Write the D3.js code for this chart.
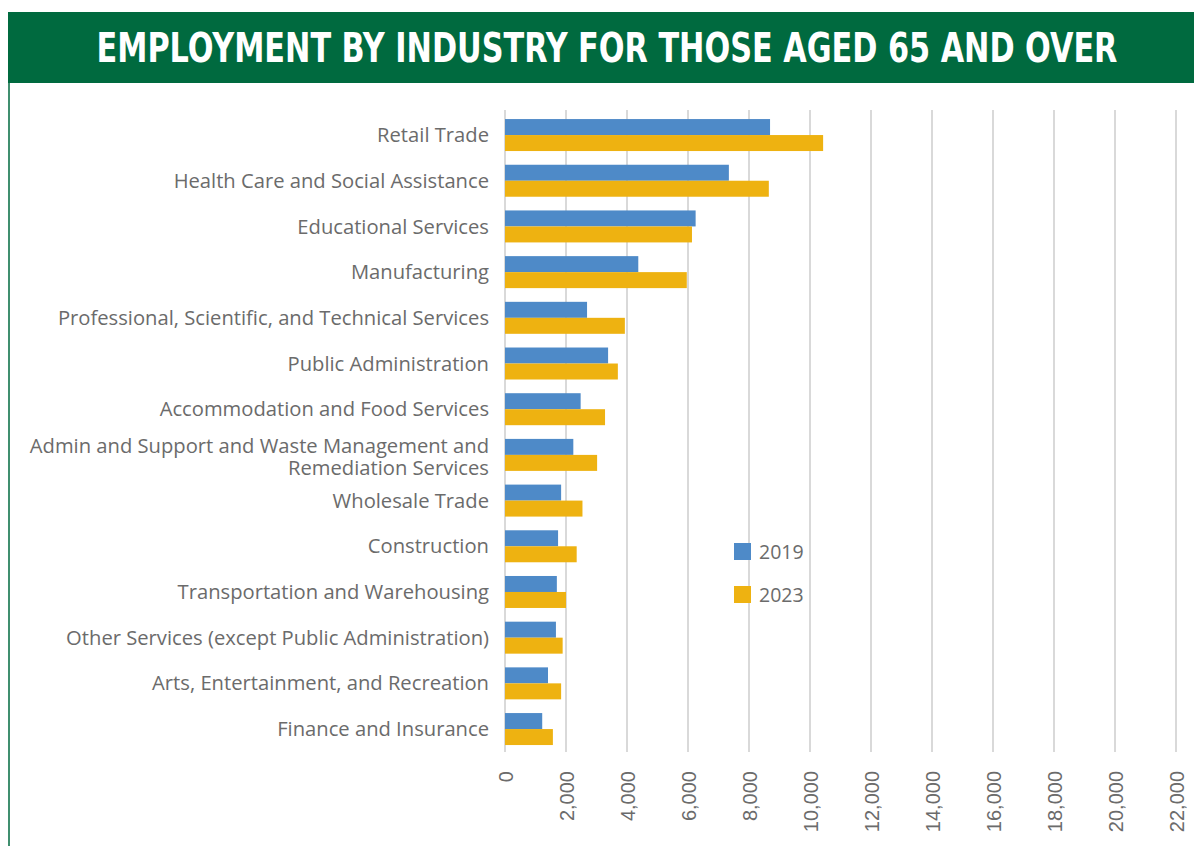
<!DOCTYPE html>
<html>
<head>
<meta charset="utf-8">
<script src="https://cdn.jsdelivr.net/npm/d3@7"></script>
<style>
  html, body { margin: 0; padding: 0; background: #fff; }
  svg { display: block; }
</style>
</head>
<body>
<svg id="chart" width="1194" height="846"></svg>
<script>
// Industries, top to bottom
const categories = [
  "Retail Trade",
  "Health Care and Social Assistance",
  "Educational Services",
  "Manufacturing",
  "Professional, Scientific, and Technical Services",
  "Public Administration",
  "Accommodation and Food Services",
  "Admin and Support and Waste Management and\nRemediation Services",
  "Wholesale Trade",
  "Construction",
  "Transportation and Warehousing",
  "Other Services (except Public Administration)",
  "Arts, Entertainment, and Recreation",
  "Finance and Insurance"
];
const seriesNames = ["2019", "2023"];
const values2019 = [8690, 7340, 6250, 4370, 2690, 3380, 2480, 2240, 1840, 1740, 1700, 1670, 1410, 1220];
const values2023 = [10430, 8650, 6130, 5960, 3930, 3700, 3280, 3020, 2540, 2350, 2000, 1890, 1840, 1570];
const tickValues = [0, 2000, 4000, 6000, 8000, 10000, 12000, 14000, 16000, 18000, 20000, 22000];

const colors = { "2019": "#4E8AC8", "2023": "#EEB211" };
const green = "#006A3F";
const textGrey = "#6B6B6B";

const svg = d3.select("#chart");

// Header band and left rule
svg.append("rect").attr("x", 8).attr("y", 12).attr("width", 1186).attr("height", 71).attr("fill", green);
svg.append("line").attr("x1", 9).attr("x2", 9).attr("y1", 83).attr("y2", 846)
  .attr("stroke", green).attr("stroke-width", 1.5);

// Title: bold face squeezed horizontally to a condensed width
const titleWidth = 1021, titleCx = 607;
const titleG = svg.append("g");
const title = titleG.append("text")
  .attr("x", 0).attr("y", 0)
  .attr("text-anchor", "middle")
  .attr("fill", "#fff")
  .attr("font-family", "'DejaVu Sans Condensed', 'DejaVu Sans', sans-serif")
  .attr("font-weight", "bold")
  .attr("font-size", 40)
  .text("EMPLOYMENT BY INDUSTRY FOR THOSE AGED 65 AND OVER");
const natural = title.node().getComputedTextLength();
titleG.attr("transform", `translate(${titleCx},62) scale(${titleWidth / natural},1)`);

// Scales
const x = d3.scaleLinear().domain([0, 22000]).range([505, 1176]);
const y = d3.scaleBand().domain(categories).range([112.2, 751.9]).paddingInner(0.3).paddingOuter(0.15);
const ySub = d3.scaleBand().domain(seriesNames).range([0, y.bandwidth()]);

// Vertical gridlines
svg.append("g")
  .selectAll("line")
  .data(tickValues)
  .join("line")
  .attr("x1", d => x(d)).attr("x2", d => x(d))
  .attr("y1", 110).attr("y2", 752)
  .attr("stroke", "#D9D9D9").attr("stroke-width", 2);

// Bars
const rows = categories.map((c, i) => ({ c, v: { "2019": values2019[i], "2023": values2023[i] } }));
const groups = svg.append("g").selectAll("g")
  .data(rows).join("g")
  .attr("transform", d => `translate(0,${y(d.c)})`);
groups.selectAll("rect")
  .data(d => seriesNames.map(s => ({ s, v: d.v[s] })))
  .join("rect")
  .attr("x", x(0))
  .attr("y", d => ySub(d.s))
  .attr("width", d => x(d.v) - x(0))
  .attr("height", ySub.bandwidth())
  .attr("fill", d => colors[d.s]);

// Category labels
const labels = svg.append("g").selectAll("text")
  .data(categories).join("text")
  .attr("x", 489)
  .attr("text-anchor", "end")
  .attr("fill", textGrey)
  .attr("font-family", "'Open Sans', Lato, sans-serif")
  .attr("font-size", 20.2);
labels.each(function (d) {
  const lines = d.split("\n");
  const cy = y(d) + y.bandwidth() / 2 + (lines.length > 1 ? 2 : 0);
  const lh = 21.5;
  const t = d3.select(this);
  lines.forEach((ln, i) => {
    t.append("tspan")
      .attr("x", 489)
      .attr("y", cy + (i - (lines.length - 1) / 2) * lh)
      .attr("dy", "0.35em")
      .text(ln);
  });
});

// Value axis (rotated tick labels)
const xAxis = d3.axisBottom(x).tickValues(tickValues).tickFormat(d3.format(",")).tickSize(0);
const ax = svg.append("g").attr("transform", "translate(0,752)").call(xAxis);
ax.select(".domain").remove();
ax.selectAll("text")
  .attr("transform", "rotate(-90)")
  .attr("text-anchor", "end")
  .attr("x", -19)
  .attr("y", 0)
  .attr("dy", "0.35em")
  .attr("fill", textGrey)
  .attr("font-family", "'Liberation Sans', Arial, sans-serif")
  .attr("font-size", 20);

// Legend
const legend = svg.append("g").selectAll("g")
  .data(seriesNames).join("g")
  .attr("transform", (d, i) => `translate(734,${543 + i * 43})`);
legend.append("rect").attr("width", 17).attr("height", 17).attr("fill", d => colors[d]);
legend.append("text")
  .attr("x", 25).attr("y", 9).attr("dy", "0.35em")
  .attr("fill", textGrey)
  .attr("font-family", "'Open Sans', Lato, sans-serif")
  .attr("font-size", 19.5)
  .text(d => d);
</script>
</body>
</html>
